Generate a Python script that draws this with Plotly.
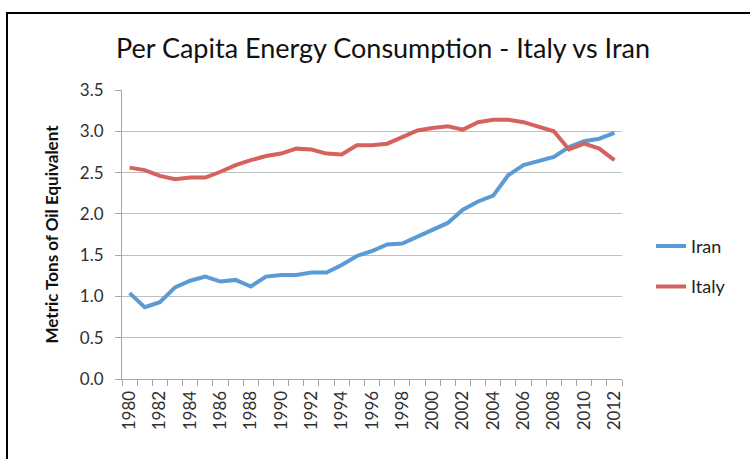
import plotly.graph_objects as go

years = list(range(1980, 2013))
iran = [1.04, 0.87, 0.93, 1.11, 1.19, 1.24, 1.18, 1.20, 1.12, 1.24, 1.26, 1.26, 1.29, 1.29,
        1.38, 1.49, 1.55, 1.63, 1.64, 1.72, 1.80, 1.89, 2.05, 2.15, 2.22, 2.47, 2.59, 2.64,
        2.69, 2.81, 2.88, 2.91, 2.98]
italy = [2.56, 2.53, 2.46, 2.42, 2.44, 2.44, 2.51, 2.59, 2.65, 2.70, 2.73, 2.79, 2.78, 2.73,
         2.72, 2.83, 2.83, 2.85, 2.93, 3.01, 3.04, 3.06, 3.02, 3.11, 3.14, 3.14, 3.11, 3.05,
         3.00, 2.78, 2.85, 2.79, 2.65]
x_tick_labels = [str(y) for y in range(1980, 2013, 2)]
y_ticks = [0.0, 0.5, 1.0, 1.5, 2.0, 2.5, 3.0, 3.5]

fig = go.Figure()
fig.add_trace(go.Scatter(x=years, y=iran, mode="lines", name="Iran", legendgroup="a",
                         line=dict(color="#5b9bd5", width=4)))
fig.add_trace(go.Scatter(x=years, y=italy, mode="lines", name="Italy", legendgroup="b",
                         line=dict(color="#d6625e", width=4)))

L, R, T, B = 122, 128, 90, 80
fig.update_layout(
    width=750, height=459,
    margin=dict(l=L, r=R, t=T, b=B, autoexpand=False),
    paper_bgcolor="white", plot_bgcolor="white",
    font=dict(family="Lato, Open Sans, sans-serif", color="#303030"),
    title=dict(text="Per Capita Energy Consumption - Italy vs Iran",
               x=383 / 750, xanchor="center", y=1 - 49 / 459, yanchor="middle",
               font=dict(size=27, color="#111111", family="Lato, sans-serif")),
    showlegend=True,
    legend=dict(x=1.058, y=0.39, xanchor="left", yanchor="middle",
                font=dict(size=18, color="#222222"), tracegroupgap=14,
                traceorder="grouped", bgcolor="rgba(0,0,0,0)"),
    xaxis=dict(range=[1979.5, 2012.5], tickmode="array",
               tickvals=list(range(1980, 2013, 2)), ticktext=x_tick_labels,
               tickangle=-90, ticks="", showgrid=False, zeroline=False,
               showline=True, linecolor="#a6a6a6", linewidth=1,
               tickfont=dict(size=17, color="#303030"), ticklabelstandoff=4,
               minor=dict(tickmode="linear", tick0=1979.5, dtick=1, ticks="outside",
                          ticklen=6, tickcolor="#a6a6a6", showgrid=False)),
    yaxis=dict(range=[0, 3.5], tickmode="array", tickvals=y_ticks,
               ticktext=[f"{v:.1f}" for v in y_ticks],
               ticks="outside", ticklen=6, tickcolor="#a6a6a6",
               showgrid=True, gridcolor="#bfbfbf", gridwidth=1, zeroline=False,
               showline=True, linecolor="#a6a6a6", linewidth=1,
               tickfont=dict(size=17, color="#303030"), ticklabelstandoff=8,
               title=dict(text="<b>Metric Tons of Oil Equivalent</b>",
                          font=dict(size=17, color="#111111"), standoff=16)),
)

# outer frame of the chart
px_to_x = lambda p: (p - L) / (750 - L - R)
px_to_y = lambda p: (459 - B - p) / (459 - T - B)
fig.add_shape(type="rect", xref="paper", yref="paper",
              x0=px_to_x(7), x1=px_to_x(770), y0=px_to_y(480), y1=px_to_y(13),
              line=dict(color="black", width=2), layer="below")

fig.write_html("out.html", config={"displayModeBar": False},
               post_script="document.body.style.margin='0';document.body.style.overflow='hidden';")
